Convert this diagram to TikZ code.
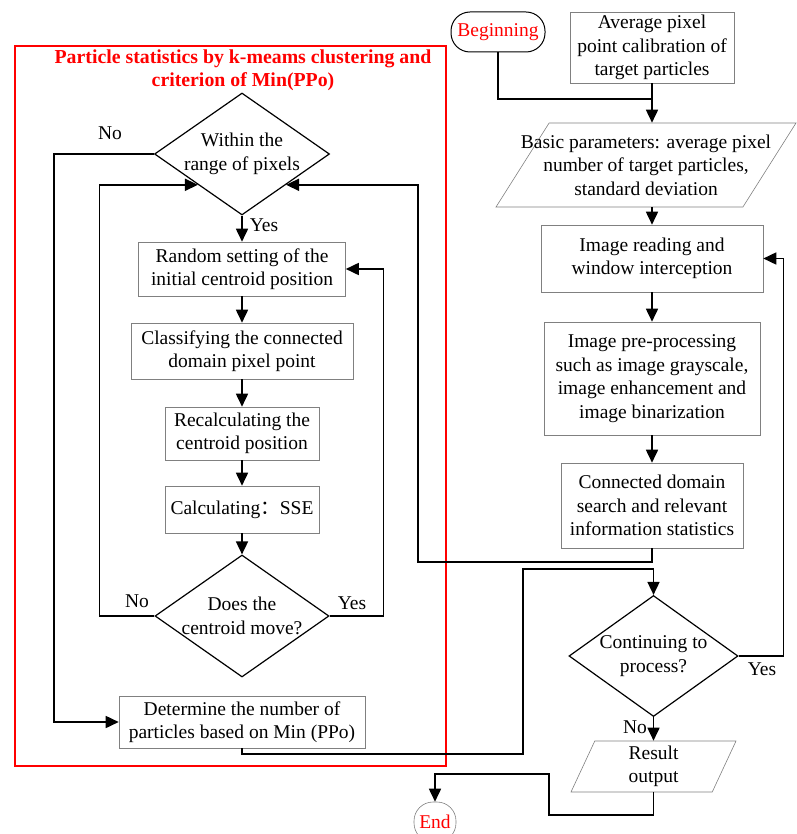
\documentclass[tikz,border=0pt]{standalone}
\usepackage{fontspec}
\setmainfont{Liberation Serif}
\newfontfamily\cjk{Noto Sans CJK SC}
\usetikzlibrary{shapes.geometric}
\usetikzlibrary{arrows.meta}
\usetikzlibrary{math}

\begin{document}
\begin{tikzpicture}[x=1pt,y=-1pt,
  txt/.style={align=center,font=\fontsize{19.5}{23.5}\selectfont},
  proc/.style={txt,draw=gray,line width=0.6pt,inner sep=0pt},
  decide/.style={diamond,draw,line width=1.2pt,inner sep=0pt,minimum width=175pt,minimum height=122pt},
  io/.style={trapezium,draw=gray,line width=0.6pt,inner xsep=0pt,trapezium stretches body=true},
  term/.style={txt,text=red,inner sep=0pt,minimum height=40pt,rounded corners=19pt},
  line/.style={line width=1.7pt},
  arrow/.style={line,-{Triangle[length=13pt,width=12pt]}}]

  \tikzmath{
    \colL = 242;  % centre line of the k-means column
    \colR = 652;  % centre line of the main column
  }

  \useasboundingbox (0,0) rectangle (796,834);

  % Frame of the k-means part
  \draw[red,line width=1.4pt] (15,46) rectangle (446,766);
  \node[align=center,text=red,font=\bfseries\fontsize{19.8}{23}\selectfont] (title) at (243,70)
    {Particle statistics by k-meams clustering and\\criterion of Min(PPo)};

  % Main column
  \node[term,draw,line width=1pt,minimum width=94pt] (begin) at (498,32) {Beginning};
  \node[proc,minimum width=164pt,minimum height=71pt] (avg) at (\colR,47.5)
    {Average pixel\\point calibration of\\target particles};
  \node[io,trapezium left angle=57.7,trapezium right angle=122.3,inner ysep=42pt,minimum width=300pt,
    label={[txt]center:{Basic parameters: average pixel\\number of target particles,\\standard deviation}}]
    (param) at (646,165) {};
  \node[proc,minimum width=222pt,minimum height=67pt] (read) at (\colR,258.5)
    {Image reading and\\window interception};
  \node[proc,minimum width=216pt,minimum height=113pt] (prep) at (\colR,378.5)
    {Image pre-processing\\such as image grayscale,\\image enhancement and\\image binarization};
  \node[proc,minimum width=182pt,minimum height=85pt] (conn) at (\colR,505.5)
    {Connected domain\\search and relevant\\information statistics};
  \node[decide,minimum width=169pt,minimum height=121pt,
    label={[txt]center:{Continuing to\\process?}}] (cont) at (653.5,656) {};
  \node[io,trapezium left angle=65,trapezium right angle=115,inner ysep=25.5pt,minimum width=165pt,
    label={[txt]center:{Result\\output}}] (result) at (653.5,766.5) {};
  \node[term,draw=gray,line width=0.6pt,minimum width=42pt] (fin) at (435,822) {End};

  % k-means column
  \node[decide,label={[txt]center:{Within the\\range of pixels}}] (within) at (\colL,154) {};
  \node[proc,minimum width=207pt,minimum height=54pt] (rand) at (\colL,269)
    {Random setting of the\\initial centroid position};
  \node[proc,minimum width=222pt,minimum height=56pt] (class) at (\colL,351)
    {Classifying the connected\\domain pixel point};
  \node[proc,minimum width=154pt,minimum height=53pt] (recalc) at (\colL,433.5)
    {Recalculating the\\centroid position};
  \node[proc,minimum width=154pt,minimum height=47pt] (sse) at (\colL,509.5)
    {Calculating{\cjk ：}SSE};
  \node[decide,minimum width=174pt,label={[txt]center:{Does the\\centroid move?}}] (move) at (\colL,616) {};
  \node[proc,minimum width=246pt,minimum height=52pt] (determ) at (\colL,722)
    {Determine the number of\\particles based on Min (PPo)};

  % Branch labels
  \node[txt] (noA) at (110,133) {No};
  \node[txt] (yesA) at (264,225) {Yes};
  \node[txt] (noB) at (137,601) {No};
  \node[txt] (yesB) at (352,603) {Yes};
  \node[txt] (yesC) at (762,669) {Yes};
  \node[txt] (noC) at (635,727) {No};

  % Turning points of the long connectors
  \coordinate (merge) at (\colR,99);
  \coordinate (backR) at (418,562);
  \coordinate (outA) at (523,754);
  \coordinate (outB) at (523,569);
  \coordinate (endA) at (549,815);
  \coordinate (endB) at (549,774);

  % Main column flow
  \draw[line] (begin.south) |- (merge);
  \draw[arrow] (avg.south) -- (avg.south |- param.north);
  \draw[arrow] (param.south -| read.north) -- (read.north);
  \draw[arrow] (read) -- (prep);
  \draw[arrow] (prep) -- (conn);
  \draw[arrow] (conn.south) |- (backR) |- (within.south east);
  \draw[arrow] (cont.east) -- ++(45,0) |- (read.east);
  \draw[arrow] (cont.south) -- (cont.south |- result.north);
  \draw[arrow] (result.south) |- (endA) -- (endB) -| (fin.north);

  % k-means flow
  \draw[arrow] (within) -- (rand);
  \draw[arrow] (rand) -- (class);
  \draw[arrow] (class) -- (recalc);
  \draw[arrow] (recalc) -- (sse);
  \draw[arrow] (sse) -- (move);
  \draw[arrow] (move.west) -- ++(-55,0) |- (within.south west);
  \draw[arrow] (move.east) -- ++(54,0) |- (rand.east);
  \draw[arrow] (within.west) -- ++(-100,0) |- (determ.west);
  \draw[arrow] (determ.south) |- (outA) -- (outB) -| (cont.north);

\end{tikzpicture}
\end{document}
